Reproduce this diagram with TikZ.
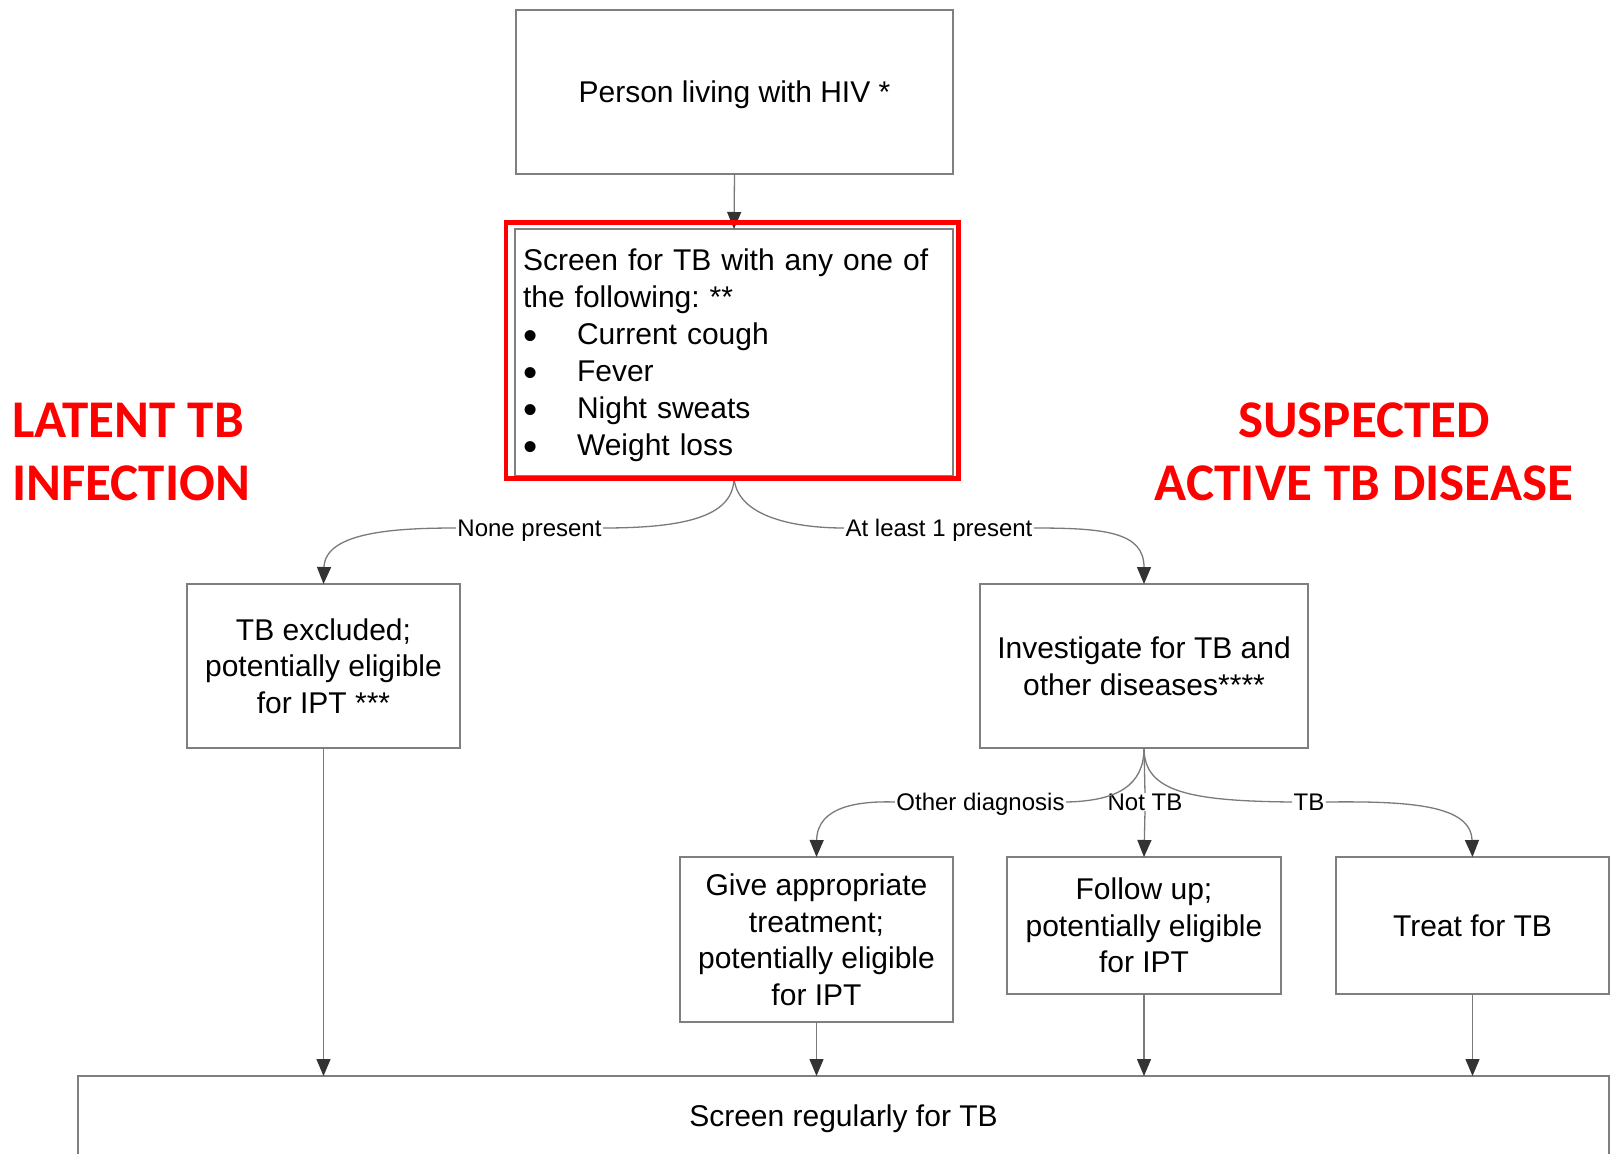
\documentclass[tikz,border=0pt]{standalone}
\usepackage{fontspec}
\usepackage{graphicx}
\setmainfont{Liberation Sans}
\newfontfamily\headfont{Carlito}
\usetikzlibrary{arrows.meta}
\frenchspacing

\definecolor{edgegray}{HTML}{7A7A7A}
\definecolor{boxgray}{HTML}{7F7F7F}
\definecolor{tipgray}{HTML}{333333}
\definecolor{alertred}{HTML}{FF0000}

% bullet used in the symptom list
\newcommand{\symbullet}{\makebox[54pt][l]{\hspace{0.5pt}\raisebox{-4.5pt}{\scalebox{1.35}{•}}}}

% text heights are set so that the cap middle of the text block sits on the node centre
\tikzset{
  box/.style={draw=boxgray, line width=1.5pt, outer sep=0pt, inner sep=0pt,
    align=center, font=\fontsize{30}{36.5}\selectfont,
    text height=22pt, text depth=0.5pt},
  two lines/.style={text height=58.5pt},
  three lines/.style={text height=95pt},
  four lines/.style={text height=131.5pt},
  lbl/.style={inner xsep=1.5pt, inner ysep=0pt, outer sep=0pt,
    font=\fontsize{24}{28}\selectfont, text height=17.5pt, text depth=0.3pt},
  link/.style={draw=edgegray, line width=1.3pt},
  arr/.style={link, -{Triangle[length=17pt,width=14pt,color=tipgray]}},
  headline/.style={text=alertred, font=\headfont\bfseries\fontsize{53}{63}\selectfont,
    inner sep=0pt, text height=97pt, text depth=0.5pt},
}

\begin{document}
\begin{tikzpicture}[x=1pt,y=-1pt]
\useasboundingbox (0,0) rectangle (1615,1154);
\clip (0,0) rectangle (1615,1154);
\fill[white] (0,0) rectangle (1615,1154);

% boxes
\node[box, minimum width=437pt, minimum height=164pt] (hiv) at (734.5,92)
  {Person living with HIV *};
\node[box, minimum width=438pt, minimum height=247pt, text width=422pt, align=left,
  font=\fontsize{30}{37}\selectfont, text height=22pt, text depth=185.5pt] (screen) at (734,352.5)
  {Screen for TB with any one of\\
   the following: **\\
   \symbullet Current cough\\
   \symbullet Fever\\
   \symbullet Night sweats\\
   \symbullet Weight loss};
\node[box, three lines, minimum width=273pt, minimum height=164pt] (excl) at (323.5,666)
  {TB excluded;\\potentially eligible\\for IPT ***};
\node[box, two lines, minimum width=328pt, minimum height=164pt] (invest) at (1144,666)
  {Investigate for TB and\\other diseases****};
\node[box, four lines, minimum width=273pt, minimum height=165pt] (give) at (816.5,939.5)
  {Give appropriate\\treatment;\\potentially eligible\\for IPT};
\node[box, three lines, minimum width=274pt, minimum height=137pt] (follow) at (1144,925.5)
  {Follow up;\\potentially eligible\\for IPT};
\node[box, minimum width=273pt, minimum height=137pt] (treat) at (1472.5,925.5)
  {Treat for TB};
\node[box, minimum width=1531pt, minimum height=80pt] (regular) at (843.5,1116)
  {Screen regularly for TB};

% side headings
\node[headline, anchor=west, align=left] (latent) at (12,452.5)
  {LATENT TB\\INFECTION};
\node[headline, align=center] (active) at (1364,452.5)
  {SUSPECTED\\ACTIVE TB DISEASE};

% branch labels
\node[lbl] (none) at (529.5,528) {None present};
\node[lbl] (atleast) at (939,528) {At least 1 present};
\node[lbl] (other) at (980.5,802) {Other diagnosis};
\node[lbl] (nottb) at (1145,802) {Not TB};
\node[lbl] (tb) at (1309,802) {TB};

% connectors
\draw[arr] (hiv.south) -- (screen.north);

\draw[link] (screen.south) .. controls (735,515) and (690,528) .. (none.east);
\draw[arr] (none.west) .. controls (395,528) and (325,532) .. (excl.north);
\draw[link] (screen.south) .. controls (735,515) and (790,528) .. (atleast.west);
\draw[arr] (atleast.east) .. controls (1105,528) and (1144,532) .. (invest.north);

\draw[link] (invest.south) .. controls (1144,785) and (1118,801) .. (other.east);
\draw[arr] (other.west) .. controls (862,801) and (817,805) .. (give.north);
\draw[link] (invest.south) -- (nottb.north);
\draw[arr] (nottb.south) -- (follow.north);
\draw[link] (invest.south) .. controls (1144,792) and (1190,801) .. (tb.west);
\draw[arr] (tb.east) .. controls (1410,801) and (1471,805) .. (treat.north);

\draw[arr] (excl.south) -- (excl.south |- regular.north);
\draw[arr] (give.south) -- (give.south |- regular.north);
\draw[arr] (follow.south) -- (follow.south |- regular.north);
\draw[arr] (treat.south) -- (treat.south |- regular.north);

% highlight frame around the screening step
\draw[alertred, line width=4.7pt] (506,222.5) rectangle (958.5,478.5);
\end{tikzpicture}
\end{document}
